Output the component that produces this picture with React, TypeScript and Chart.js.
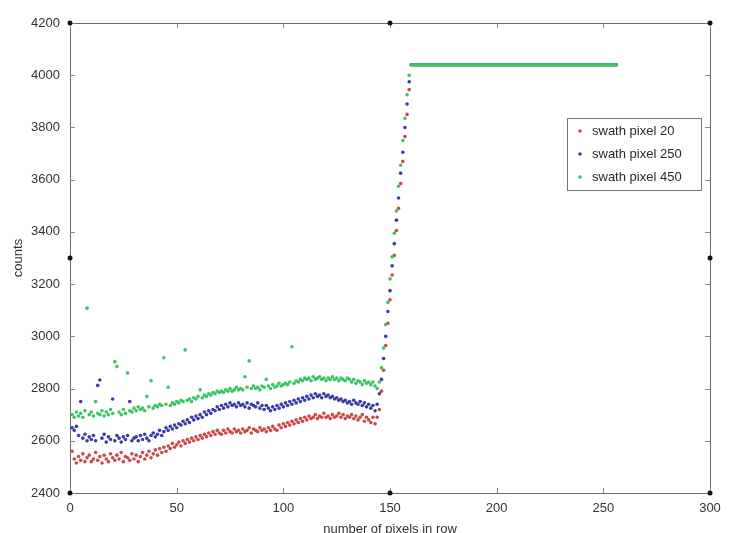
import React, { useEffect, useRef } from "react";
import { Chart, registerables } from "chart.js";

Chart.register(...registerables);

const X_MIN = 0;
const X_MAX = 300;
const X_STEP = 50;
const Y_MIN = 2400;
const Y_MAX = 4200;
const Y_STEP = 200;

const SERIES_LABELS = ["swath pixel 20", "swath pixel 250", "swath pixel 450"];
const FIRST_PIXEL = 1;

// pixels 1..143 (flat region)
const red20 = [
  2560, 2530, 2515, 2540, 2525, 2550, 2520, 2535, 2545, 2520,
  2530, 2555, 2525, 2540, 2515, 2545, 2530, 2520, 2550, 2535,
  2525, 2545, 2530, 2555, 2520, 2540, 2535, 2525, 2550, 2530,
  2545, 2520, 2540, 2555, 2530, 2545, 2560, 2535, 2550, 2565,
  2545, 2570, 2555, 2575, 2560, 2580, 2570, 2590, 2575, 2585,
  2595, 2580, 2600, 2590, 2605, 2595, 2610, 2600, 2615, 2605,
  2620, 2610, 2625, 2615, 2630, 2620, 2635, 2625, 2640, 2630,
  2625, 2640, 2630, 2645, 2635, 2630, 2645, 2635, 2640, 2630,
  2645, 2635, 2640, 2650, 2630, 2645, 2640, 2635, 2650, 2640,
  2645, 2635, 2650, 2640, 2655, 2645, 2640, 2660, 2650, 2665,
  2655, 2670, 2660, 2675, 2665, 2680, 2670, 2685, 2675, 2690,
  2680, 2695, 2685, 2690, 2700, 2685, 2695, 2690, 2705, 2690,
  2695, 2685, 2700, 2690, 2695, 2705, 2690, 2700, 2685, 2695,
  2690, 2700, 2685, 2695, 2680, 2690, 2700, 2675, 2690, 2680,
  2670, 2690, 2665,
];
// pixels 144..159 (rising edge)
const red20Ramp = [2690, 2720, 2790, 2870, 2965, 3050, 3140, 3235, 3310, 3405, 3490, 3585, 3670, 3765, 3850, 3945];

const blue250 = [
  2650, 2640, 2655, 2620, 2750, 2610, 2625, 2600, 2615, 2605,
  2620, 2600, 2812, 2833, 2610, 2625, 2595, 2615, 2605, 2760,
  2600, 2620, 2610, 2595, 2615, 2605, 2620, 2750, 2600, 2610,
  2615, 2600, 2620, 2605, 2625, 2610, 2600, 2620, 2630, 2615,
  2625, 2640, 2620, 2635, 2650, 2640, 2655, 2645, 2660, 2650,
  2665, 2660, 2675, 2665, 2680, 2670, 2690, 2680, 2695, 2685,
  2700, 2690, 2710, 2700, 2715, 2705, 2720, 2715, 2730, 2720,
  2735, 2725, 2740, 2730, 2745, 2735, 2740, 2730, 2745, 2735,
  2740, 2730, 2745, 2725, 2740, 2735, 2730, 2745, 2725, 2735,
  2720, 2735, 2725, 2715, 2730, 2720, 2735, 2725, 2740, 2730,
  2745, 2735, 2750, 2740, 2755, 2745, 2760, 2750, 2765, 2755,
  2770, 2760, 2775, 2765, 2780, 2770, 2775, 2765, 2780, 2770,
  2775, 2765, 2770, 2760, 2765, 2755, 2760, 2750, 2755, 2745,
  2750, 2740, 2755, 2745, 2740, 2750, 2735, 2745, 2730, 2740,
  2725, 2735, 2715,
];
const blue250Ramp = [2740, 2780, 2835, 2915, 3000, 3095, 3175, 3270, 3355, 3445, 3530, 3625, 3705, 3800, 3890, 3975];

const green450 = [
  2700, 2690, 2710, 2695, 2705, 2690, 2715, 3108, 2700, 2710,
  2695, 2750, 2705, 2700, 2715, 2695, 2710, 2700, 2720, 2705,
  2903, 2884, 2710, 2700, 2720, 2705, 2860, 2715, 2710, 2725,
  2715, 2730, 2720, 2725, 2715, 2770, 2730, 2830, 2725, 2735,
  2730, 2740, 2735, 2918, 2740, 2805, 2735, 2745, 2740, 2750,
  2745, 2755, 2750, 2948, 2755, 2760, 2750, 2765, 2760, 2770,
  2795, 2765, 2775, 2770, 2780, 2775, 2785, 2780, 2790, 2785,
  2790, 2785, 2795, 2790, 2800, 2790, 2795, 2805, 2795, 2800,
  2795, 2845, 2805, 2906, 2800, 2810, 2800, 2805, 2795, 2810,
  2805, 2835, 2810, 2800, 2815, 2805, 2810, 2820, 2810, 2815,
  2820, 2815, 2825, 2960, 2820, 2830, 2825, 2835, 2830, 2840,
  2835, 2840, 2830, 2845, 2835, 2840, 2845, 2835, 2840, 2830,
  2840, 2835, 2845, 2835, 2840, 2830, 2840, 2835, 2830, 2840,
  2835, 2825, 2835, 2820, 2830, 2825, 2815, 2830, 2820, 2825,
  2815, 2825, 2810,
];
const green450Ramp = [2800, 2825, 2880, 2955, 3045, 3130, 3220, 3305, 3395, 3480, 3575, 3655, 3750, 3835, 3925, 4000];

// pixels 160..256 (saturated, same for all three)
const saturated = [
  4040, 4040, 4040, 4040, 4040, 4040, 4040, 4040, 4040, 4040,
  4040, 4040, 4040, 4040, 4040, 4040, 4040, 4040, 4040, 4040,
  4040, 4040, 4040, 4040, 4040, 4040, 4040, 4040, 4040, 4040,
  4040, 4040, 4040, 4040, 4040, 4040, 4040, 4040, 4040, 4040,
  4040, 4040, 4040, 4040, 4040, 4040, 4040, 4040, 4040, 4040,
  4040, 4040, 4040, 4040, 4040, 4040, 4040, 4040, 4040, 4040,
  4040, 4040, 4040, 4040, 4040, 4040, 4040, 4040, 4040, 4040,
  4040, 4040, 4040, 4040, 4040, 4040, 4040, 4040, 4040, 4040,
  4040, 4040, 4040, 4040, 4040, 4040, 4040, 4040, 4040, 4040,
  4040, 4040, 4040, 4040, 4040, 4040, 4040,
];

// stray black marker points seen on the axes box
const markX = [0, 150, 300, 0, 300, 0, 150, 300];
const markY = [4200, 4200, 4200, 3300, 3300, 2400, 2400, 2400];

const COLORS = ["#c84a48", "#3c3ca8", "#3cc464"];

function toPoints(values: number[]) {
  return values.map((v, i) => ({ x: FIRST_PIXEL + i, y: v }));
}

const FONT = "'Liberation Sans', Arial, sans-serif";

const framePlugin = {
  id: "frame",
  beforeDatasetsDraw(chart: any) {
    const { ctx, chartArea: a, scales } = chart;
    ctx.save();
    ctx.strokeStyle = "#6a6a6a";
    ctx.lineWidth = 1;
    ctx.strokeRect(Math.round(a.left) + 0.5, Math.round(a.top) + 0.5, Math.round(a.right - a.left), Math.round(a.bottom - a.top));
    const tl = 5;
    ctx.strokeStyle = "#888";
    ctx.beginPath();
    scales.x.ticks.forEach((t: any) => {
      const px = Math.round(scales.x.getPixelForValue(t.value)) + 0.5;
      ctx.moveTo(px, a.bottom);
      ctx.lineTo(px, a.bottom - tl);
      ctx.moveTo(px, a.top);
      ctx.lineTo(px, a.top + tl);
    });
    scales.y.ticks.forEach((t: any) => {
      const py = Math.round(scales.y.getPixelForValue(t.value)) + 0.5;
      ctx.moveTo(a.left, py);
      ctx.lineTo(a.left + tl, py);
      ctx.moveTo(a.right, py);
      ctx.lineTo(a.right - tl, py);
    });
    ctx.stroke();
    ctx.restore();
  },
};

const legendPlugin = {
  id: "boxLegend",
  afterDraw(chart: any) {
    const { ctx } = chart;
    const bx = 567, by = 118, bw = 134, bh = 72;
    ctx.save();
    ctx.fillStyle = "#ffffff";
    ctx.fillRect(bx, by, bw, bh);
    ctx.strokeStyle = "#777";
    ctx.lineWidth = 1;
    ctx.strokeRect(bx + 0.5, by + 0.5, bw, bh);
    ctx.font = `13px ${FONT}`;
    ctx.textBaseline = "middle";
    SERIES_LABELS.forEach((label, i) => {
      const y = by + 13 + i * 23;
      ctx.fillStyle = COLORS[i];
      ctx.beginPath();
      ctx.arc(bx + 13, y, 1.8, 0, Math.PI * 2);
      ctx.fill();
      ctx.fillStyle = "#2a2a2a";
      ctx.fillText(label, bx + 25, y);
    });
    ctx.restore();
  },
};

export default function App() {
  const ref = useRef<HTMLCanvasElement>(null);

  useEffect(() => {
    if (!ref.current) return;
    const series = [
      [...red20, ...red20Ramp, ...saturated],
      [...blue250, ...blue250Ramp, ...saturated],
      [...green450, ...green450Ramp, ...saturated],
    ];
    const chart = new Chart(ref.current, {
      type: "scatter",
      data: {
        datasets: [
          ...series.map((vals, i) => ({
            label: SERIES_LABELS[i],
            data: toPoints(vals),
            backgroundColor: COLORS[i],
            borderColor: COLORS[i],
            pointRadius: 1.8,
            pointBorderWidth: 0,
            order: 3 - i,
          })),
          {
            label: "marks",
            data: markX.map((x, i) => ({ x, y: markY[i] })),
            backgroundColor: "#111",
            borderColor: "#111",
            pointRadius: 2.5,
            pointBorderWidth: 0,
            clip: false as any,
            order: 0,
          },
        ],
      },
      options: {
        responsive: false,
        animation: false,
        events: [],
        layout: { padding: { left: 0, top: 23, right: 24, bottom: 0 } },
        plugins: {
          legend: { display: false },
          tooltip: { enabled: false },
        },
        scales: {
          x: {
            type: "linear",
            min: X_MIN,
            max: X_MAX,
            grid: { display: false },
            border: { display: false },
            ticks: {
              stepSize: X_STEP,
              color: "#333",
              font: { family: FONT, size: 13 },
              padding: 0,
              maxRotation: 0,
              callback: (v: any) => String(v),
            },
            title: {
              display: true,
              text: "number of pixels in row",
              color: "#333",
              font: { family: FONT, size: 13 },
              padding: { top: 0, bottom: -4 },
            },
            afterFit: (s: any) => {
              s.height = 40;
            },
          },
          y: {
            type: "linear",
            min: Y_MIN,
            max: Y_MAX,
            grid: { display: false },
            border: { display: false },
            ticks: {
              stepSize: Y_STEP,
              color: "#333",
              font: { family: FONT, size: 13 },
              padding: 2,
              callback: (v: any) => String(v),
            },
            title: {
              display: true,
              text: "counts",
              color: "#333",
              font: { family: FONT, size: 13 },
              padding: { top: 11, bottom: 0 },
            },
            afterFit: (s: any) => {
              s.width = 70;
            },
          },
        },
      },
      plugins: [framePlugin, legendPlugin],
    });
    return () => chart.destroy();
  }, []);

  return (
    <div style={{ position: "absolute", left: 0, top: 0, width: 734, height: 533, background: "#fff" }}>
      <canvas ref={ref} width={734} height={533} style={{ display: "block" }} />
    </div>
  );
}
